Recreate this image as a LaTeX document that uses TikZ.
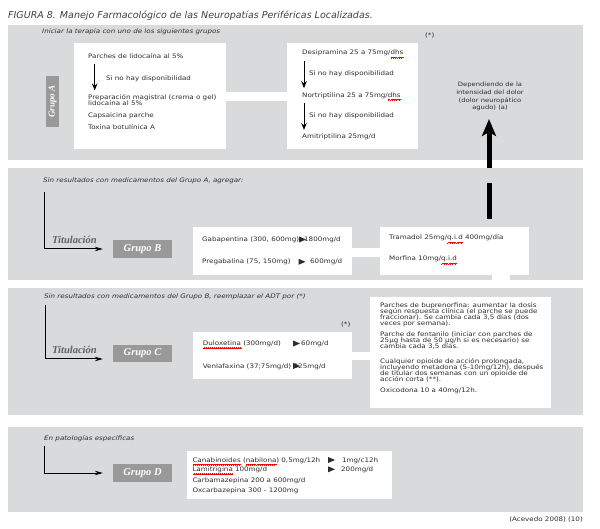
\documentclass[tikz,border=0pt]{standalone}
\usepackage{fontspec}
\setmainfont{DejaVu Sans}
\newfontfamily\boxfont{DejaVu Sans}[FakeStretch=1.15]
\newfontfamily\grpfont{Liberation Serif}
\usetikzlibrary{arrows.meta}
\definecolor{panelgray}{RGB}{217,218,220}
\definecolor{grpgray}{RGB}{153,153,153}
\definecolor{inkgray}{RGB}{45,45,45}
\newsavebox{\wavebox}
\newcommand{\wavecell}{\hbox{\rule[-3.0pt]{0.5pt}{0.45pt}\rule[-2.65pt]{0.5pt}{0.45pt}\rule[-2.3pt]{0.5pt}{0.45pt}\rule[-2.65pt]{0.5pt}{0.45pt}}}
\newcommand{\redwave}[1]{\sbox{\wavebox}{#1}\rlap{\color{red}\hbox to \wd\wavebox{\xleaders\wavecell\hfil}}\usebox{\wavebox}}
\newcommand{\ptr}[2]{\fill[inkgray] (#1,#2) ++(0,-3) -- ++(7,3) -- ++(-7,3) -- cycle;}
\begin{document}
\begin{tikzpicture}[x=1pt,y=-1pt,
  panel/.style={fill=panelgray,anchor=north west,inner sep=0pt,minimum width=575pt},
  wbox/.style={fill=white,anchor=north west,inner sep=0pt},
  band/.style={draw=white,line width=9pt},
  txt/.style={anchor=base west,inner sep=0pt,text=inkgray,font=\boxfont\fontsize{6.2}{6.2}\selectfont},
  hdr/.style={txt,font=\boxfont\fontsize{6.2}{6.2}\selectfont\itshape},
  grp/.style={fill=grpgray,text=white,inner sep=0pt,minimum width=59pt,minimum height=18pt,font=\grpfont\fontsize{10.5}{10.5}\selectfont\bfseries\itshape},
  titl/.style={anchor=base west,inner sep=0pt,text=black!62,font=\grpfont\fontsize{10.5}{10.5}\selectfont\bfseries\itshape},
  thin/.style={draw=black,line width=1pt,-{Stealth[length=7pt,width=5.5pt]}},
  lpath/.style={draw=black,line width=1pt,-{Stealth[length=8pt,width=4.5pt]}}]
\useasboundingbox (0,0) rectangle (600,529);

\node[anchor=base west,inner sep=0pt,text=black!75,font=\fontsize{9.5}{9.5}\selectfont\itshape] (title) at (8,18.5) {FIGURA 8. Manejo Farmacológico de las Neuropatías Periféricas Localizadas.};

\node[panel,minimum height=135pt] (pA) at (8,25) {};
\node[panel,minimum height=112pt] (pB) at (8,168) {};
\node[panel,minimum height=127pt] (pC) at (8,288) {};
\node[panel,minimum height=85pt] (pD) at (8,427) {};

\node[wbox,minimum width=152pt,minimum height=106pt] (a1) at (74,43) {};
\node[wbox,minimum width=131pt,minimum height=106pt] (a2) at (287,43) {};
\node[wbox,minimum width=159pt,minimum height=48pt] (b1) at (193,227) {};
\node[wbox,minimum width=149pt,minimum height=48pt] (b2) at (380,227) {};
\node[wbox,minimum width=159pt,minimum height=47pt] (c1) at (193,332) {};
\node[wbox,minimum width=181pt,minimum height=111pt] (c2) at (370,297) {};
\node[wbox,minimum width=205pt,minimum height=48pt] (d1) at (187,451) {};

\draw[band] (a1.east) -- (a1.east -| a2.west);
\draw[band] ([yshift=-1.5pt]b1.east) -- ([yshift=-1.5pt]b1.east -| b2.west);
\draw[band,line width=8pt] (c1.east) -- (c1.east -| c2.west);
\coordinate (stub) at (501,0);
\draw[white,line width=18pt] (stub |- b2.south) -- (stub |- pB.south);

\node[hdr] (hdrA) at (42,34) {Iniciar la terapia con uno de los siguientes grupos};
\node[grp,rotate=90,minimum width=51pt,minimum height=13pt,font=\grpfont\fontsize{9}{9}\selectfont\bfseries\itshape] (grpA) at (52.5,101.5) {Grupo A};
\node[txt] (a1l1) at (88,59) {Parches de lidocaína al 5\%};
\node[txt] (a1s) at (106,80.5) {Si no hay disponibilidad};
\node[txt] (a1l2) at (88,99.5) {Preparación magistral (crema o gel)};
\node[txt] (a1l3) at (88,105.8) {lidocaína al 5\%};
\node[txt] (a1l4) at (88,118) {Capsaicina parche};
\node[txt] (a1l5) at (88,129.5) {Toxina botulínica A};
\draw[thin] ([xshift=6.7pt,yshift=-5pt]a1l1.base west) -- ([xshift=6.7pt,yshift=9pt]a1l2.base west);

\node[txt] (a2l1) at (302,55) {Desipramina 25 a 75mg/\redwave{dhs}};
\node[txt] (a2s1) at (309,75.5) {Si no hay disponibilidad};
\node[txt] (a2l2) at (302,97.2) {Nortriptilina 25 a 75mg/\redwave{dhs}};
\node[txt] (a2s2) at (309,118) {Si no hay disponibilidad};
\node[txt] (a2l3) at (302,139) {Amitriptilina 25mg/d};
\draw[thin] ([xshift=2pt,yshift=-6pt]a2l1.base west) -- ([xshift=2pt,yshift=9pt]a2l2.base west);
\draw[thin] ([xshift=2pt,yshift=-6pt]a2l2.base west) -- ([xshift=2pt,yshift=9pt]a2l3.base west);

\node[txt] (starA) at (425,37.2) {(*)};
\node[align=center,inner sep=0pt,text=inkgray,font=\boxfont\fontsize{5.9}{7.7}\selectfont] (dep) at (490,96.7) {Dependiendo de la\\intensidad del dolor\\(dolor neuropático\\agudo) (a)};
\coordinate (arrBot) at (489,168);
\coordinate (arrTop) at (489,119);
\coordinate (barTop) at (489,183);
\coordinate (barBot) at (489,219);
\draw[line width=5pt,-{Stealth[length=17pt,width=14pt,inset=4pt]}] (arrBot) -- (arrTop);
\draw[line width=5pt] (barTop) -- (barBot);

\node[hdr] (hdrB) at (43,183) {Sin resultados con medicamentos del Grupo A, agregar:};
\node[titl] (titB) at (52,243.5) {Titulación};
\node[grp] (grpB) at (142.5,249) {Grupo B};
\coordinate (topB) at (44,192);
\draw[lpath] (topB) |- ([xshift=-10pt]grpB.west);
\node[txt] (b1l1) at (202,241.5) {Gabapentina (300, 600mg)};
\node[txt] (b1r1) at (304,241.5) {1800mg/d};
\ptr{299}{239.5}
\node[txt] (b1l2) at (202,264) {Pregabalina (75, 150mg)};
\node[txt] (b1r2) at (310,264) {600mg/d};
\ptr{298.5}{261.8}
\node[txt] (b2l1) at (389,240) {Tramadol 25mg/\redwave{q.i.d} 400mg/día};
\node[txt] (b2l2) at (389,261) {Morfina 10mg/\redwave{q.i.d}};

\node[hdr] (hdrC) at (44,299) {Sin resultados con medicamentos del Grupo B, reemplazar el ADT por (*)};
\node[titl] (titC) at (52,353.5) {Titulación};
\node[grp,minimum height=17pt] (grpC) at (142.5,353.5) {Grupo C};
\coordinate (topC) at (45,305);
\draw[lpath] (topC) |- ([xshift=-10pt,yshift=-5.5pt]grpC.west);
\node[txt] (starC) at (341,326.5) {(*)};
\node[txt] (c1l1) at (202.7,345.5) {\redwave{Duloxetina} (300mg/d)};
\node[txt] (c1r1) at (301,345.5) {60mg/d};
\ptr{293}{343.5}
\node[txt] (c1l2) at (202.7,368.2) {Venlafaxina (37;75mg/d)};
\node[txt] (c1r2) at (293.5,368.2) {225mg/d};
\ptr{293}{366}
\foreach \yy/\ttext [count=\i] in {307.9/{Parches de buprenorfina: aumentar la dosis},
  313.7/{según respuesta clínica (el parche se puede},
  319.5/{fraccionar). Se cambia cada 3,5 días (dos},
  325.3/{veces por semana).},
  336.5/{Parche de fentanilo (iniciar con parches de},
  342.9/{25µg hasta de 50 µg/h si es necesario) se},
  348.2/{cambia cada 3,5 días.},
  363.9/{Cualquier opioide de acción prolongada,},
  369.7/{incluyendo metadona (5-10mg/12h), después},
  375.5/{de titular dos semanas con un opioide de},
  381.3/{acción corta (**).},
  392.2/{Oxicodona 10 a 40mg/12h.}}
  \node[txt] (c2l\i) at (380,\yy) {\ttext};

\node[hdr] (hdrD) at (44,440.3) {En patologías específicas};
\node[grp] (grpD) at (142.5,473) {Grupo D};
\coordinate (topD) at (44,446);
\draw[lpath] (topD) |- ([xshift=-10pt]grpD.west);
\node[txt] (d1l1) at (192.3,462.2) {\redwave{Canabinoides} (\redwave{nabilona}) 0,5mg/12h};
\node[txt] (d1r1) at (342,462.2) {1mg/c12h};
\ptr{328}{460}
\node[txt] (d1l2) at (192.3,471.5) {\redwave{Lamitrigina} 100mg/d};
\node[txt] (d1r2) at (341,471.5) {200mg/d};
\ptr{328}{469.3}
\node[txt] (d1l3) at (192.3,482.2) {Carbamazepina 200 a 600mg/d};
\node[txt] (d1l4) at (192.3,492.9) {Oxcarbazepina 300 - 1200mg};

\node[anchor=base east,inner sep=0pt,text=inkgray,font=\boxfont\fontsize{6.2}{6.2}\selectfont] (src) at (583,521) {(Acevedo 2008) (10)};
\end{tikzpicture}
\end{document}
